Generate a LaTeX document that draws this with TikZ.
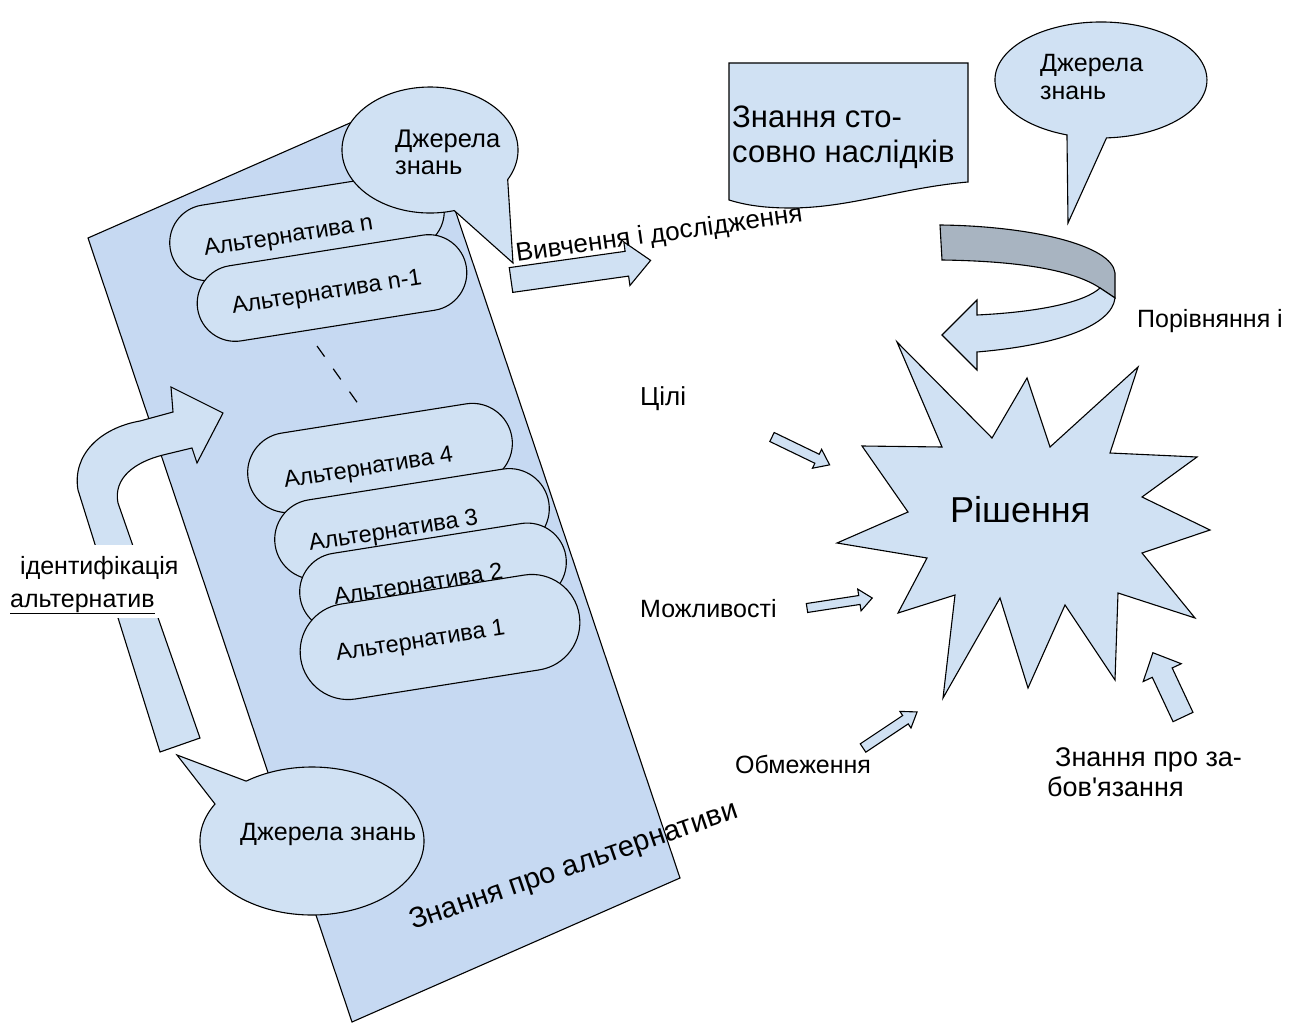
\documentclass[tikz,border=0pt]{standalone}
\usepackage{fontspec}
\setmainfont{Liberation Sans}[Ligatures=TeXOff]
\usetikzlibrary{shapes.misc}
\definecolor{rectblue}{RGB}{198,217,242}
\definecolor{paleblue}{RGB}{208,225,243}
\definecolor{ribbongrey}{RGB}{168,180,193}
\newcommand{\fs}[2]{\fontsize{#1}{#2}\selectfont}
\newcommand{\Lines}[2]{\vtop{\hbox{#1}\hbox{#2}}}
% block arrow: tail point, angle, length, half shaft, half head, head length
\newcommand{\BlockArrow}[6]{%
  \draw[shapefill, shift={#1}, rotate=#2] (0,-#4) -- ({#3-#6},-#4) -- ({#3-#6},-#5)
    -- (#3,0) -- ({#3-#6},#5) -- ({#3-#6},#4) -- (0,#4) -- cycle;}

\begin{document}
\begin{tikzpicture}[x=1pt,y=-1pt,
  outline/.style={draw=black, line width=1.1pt, line join=miter},
  shapefill/.style={outline, fill=paleblue},
  capsule/.style={outline, fill=paleblue, rounded rectangle, rotate=9, inner sep=0pt},
  alttext/.style={anchor=base west, rotate=9, inner sep=0pt, font=\fs{23.5}{27}},
  plainlabel/.style={anchor=base west, inner sep=0pt, font=\fs{25}{28}}]
\fill[white] (0,0) rectangle (1303,1024);
\useasboundingbox (0,0) rectangle (1303,1024);

% knowledge about the alternatives
\draw[outline, fill=rectblue] (88,238) -- (416,94) -- (680,878) -- (352,1022) -- cycle;
\node[plainlabel, font=\fs{29}{33}, rotate=19] (altknow) at (413,930) {Знання про альтернативи};

% identification arrow
\draw[shapefill] (160,752) -- (78,490) .. controls (72,455) and (100,428) .. (140,421)
  -- (173,412) -- (171,387) -- (223,413) -- (197,463) -- (192,448) -- (163,455)
  .. controls (135,462) and (113,478) .. (118,503) -- (200,738) -- cycle;
\fill[white] (8,545) rectangle (186,618);
\node[plainlabel] (ident) at (20,574) {ідентифікація};
\node[plainlabel] (identb) at (10,607) {\underline{альтернатив}};

% alternatives
\node[capsule, minimum width=277pt, minimum height=76pt] (capn) at (307,227) {};
\node[alttext] (txtn) at (205,256) {Альтернатива n};
\node[capsule, minimum width=272pt, minimum height=76pt] (capm) at (332,288) {};
\node[alttext] (txtm) at (233,314) {Альтернатива n-1};
\coordinate (gapa) at (317,346);
\coordinate (gapb) at (359,405);
\draw[line width=1.2pt, dash pattern=on 13pt off 15pt] (gapa) -- (gapb);
\node[capsule, minimum width=267pt, minimum height=80pt] (cap4) at (380,458) {};
\node[alttext] (txt4) at (285,488) {Альтернатива 4};
\node[capsule, minimum width=277pt, minimum height=80pt] (cap3) at (412,524) {};
\node[alttext] (txt3) at (310,551) {Альтернатива 3};
\node[capsule, minimum width=269pt, minimum height=78pt] (cap2) at (433,577) {};
\node[alttext] (txt2) at (335,605) {Альтернатива 2};
\node[capsule, minimum width=282pt, minimum height=96pt] (cap1) at (440,637) {};
\node[alttext] (txt1) at (337,661) {Альтернатива 1};

% knowledge sources
\draw[shapefill] (177,755) -- (215,804) arc[start angle=210, end angle=-126, x radius=112, y radius=74] -- cycle;
\node[plainlabel] (srca) at (240,840) {Джерела знань};
\draw[shapefill] (513,263) -- (507.7,179.6) arc[start angle=28, end angle=-286, x radius=88, y radius=63] -- cycle;
\node[plainlabel, font=\fs{25.5}{27}] (srcb) at (395,148) {\Lines{Джерела}{знань}};

% study and research
\BlockArrow{(511,280)}{8}{141}{12.5}{22}{24}
\node[plainlabel, font=\fs{26}{30}, rotate=8] (study) at (517,262) {Вивчення і дослідження};

% consequences
\draw[shapefill] (729,63) -- (968,63) -- (968,182) .. controls (900,188) and (850,208) .. (790,208)
  .. controls (760,208) and (742,204) .. (729,200) -- cycle;
\node[plainlabel, font=\fs{31}{35}] (conseq) at (732,128) {\Lines{Знання сто-}{совно наслідків}};

\draw[shapefill] (1068,223) -- (1106.5,137.9) arc[start angle=87, end angle=-251.3, x radius=106, y radius=58] -- cycle;
\node[plainlabel, font=\fs{25}{28}] (srcc) at (1040,72) {\Lines{Джерела}{знань}};

% comparison ribbon
\draw[outline, fill=ribbongrey] (940,225) .. controls (1030,226) and (1112,245) .. (1115,273)
  -- (1115,298) -- (1100,288) .. controls (1070,268) and (1010,261) .. (942,260) -- cycle;
\draw[shapefill] (1100,288) -- (1115,298) .. controls (1112,325) and (1060,345) .. (977,352)
  -- (977,370) -- (942,335) -- (977,300) -- (977,315) .. controls (1040,312) and (1085,302) .. (1100,288) -- cycle;
\node[plainlabel, font=\fs{25}{28}] (compare) at (1137,327) {Порівняння і};

% decision
\draw[shapefill] (897,342) -- (992,438) -- (1027,378) -- (1050,447) -- (1138,367) -- (1110,453)
  -- (1197,457) -- (1142,497) -- (1210,530) -- (1142,553) -- (1195,618) -- (1118,593)
  -- (1115,680) -- (1065,605) -- (1028,688) -- (1000,598) -- (943,698) -- (955,595)
  -- (898,613) -- (927,558) -- (837,543) -- (908,512) -- (862,446) -- (942,447) -- cycle;
\node[plainlabel, font=\fs{36}{40}] (decision) at (950,522) {Рішення};

% inputs
\BlockArrow{(772,437)}{-25.8}{64}{5}{10.5}{14}
\node[plainlabel, font=\fs{26}{30}] (goals) at (640,405) {Цілі};
\BlockArrow{(807,608)}{8.7}{66}{4.5}{11}{13}
\node[plainlabel] (means) at (640,617) {Можливості};
\BlockArrow{(863,748)}{33.7}{65}{5}{10}{14}
\node[plainlabel] (limits) at (735,773) {Обмеження};
\BlockArrow{(1183,717)}{115.1}{71}{11}{21}{22}
\node[plainlabel, font=\fs{27}{30}] (duty) at (1055,766) {\Lines{Знання про за-}{\hspace*{-8pt}бов'язання}};
\end{tikzpicture}
\end{document}
